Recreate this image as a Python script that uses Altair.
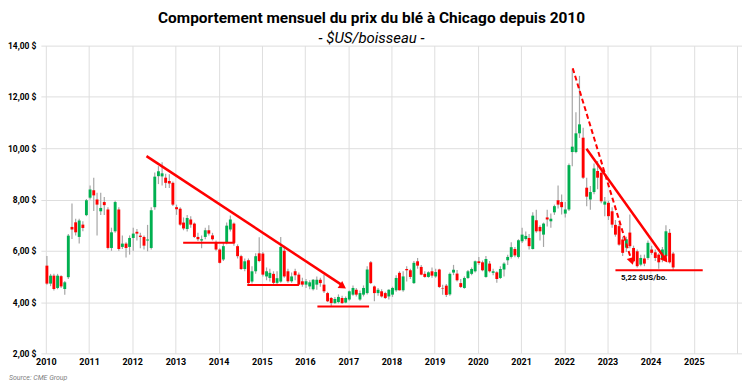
import altair as alt
import pandas as pd

# Monthly OHLC, Jan 2010 -> Jul 2024 ($US/bushel)
opens = [5.42, 4.72, 5.03, 4.55, 5.01, 4.51, 4.97, 6.93, 7.11, 6.54, 7.02, 7.39,
         8.07, 8.36, 8.00, 7.54, 7.90, 7.61, 6.11, 6.76, 7.61, 6.15, 6.28, 6.15,
         6.50, 6.74, 6.59, 6.54, 6.40, 6.11, 7.70, 8.91, 8.90, 8.85, 8.72, 8.65,
         7.70, 7.64, 7.10, 6.85, 7.22, 7.06, 6.54, 6.40, 6.54, 6.80, 6.60, 6.31,
         6.05, 5.66, 6.31, 6.83, 7.06, 6.18, 5.79, 5.29, 5.63, 4.80, 5.20, 5.90,
         5.89, 5.00, 4.94, 5.10, 4.75, 4.80, 6.00, 5.20, 4.81, 5.20, 5.07, 4.81,
         4.68, 4.61, 4.50, 4.68, 4.87, 4.68, 4.35, 4.16, 3.96, 4.00, 4.16, 3.98,
         4.10, 4.29, 4.48, 4.10, 4.29, 4.35, 5.55, 4.61, 4.35, 4.42, 4.35, 4.22,
         4.29, 4.46, 5.14, 4.46, 5.29, 5.24, 4.74, 5.59, 5.37, 5.10, 4.98, 5.20,
         5.00, 5.27, 4.55, 4.64, 4.30, 5.15, 5.11, 4.74, 4.55, 4.94, 5.10, 5.20,
         5.59, 5.55, 4.98, 5.50, 5.14, 5.16, 4.94, 5.27, 5.63, 5.76, 6.07, 5.76,
         6.37, 6.46, 6.50, 6.07, 7.19, 6.93, 6.63, 7.30, 7.15, 7.50, 7.97, 7.90,
         7.45, 7.61, 9.85, 9.85, 10.58, 10.41, 8.46, 8.00, 8.29, 9.11, 9.04, 7.80,
         7.87, 7.54, 7.01, 6.96, 6.44, 6.12, 6.71, 6.11, 5.98, 5.46, 5.70, 5.72,
         6.05, 5.94, 5.85, 5.66, 5.79, 6.70, 5.89]
highs = [5.80, 5.10, 5.10, 5.10, 5.05, 4.82, 6.65, 7.84, 7.25, 7.25, 7.15, 8.02,
         8.55, 8.85, 8.26, 8.26, 8.10, 7.70, 6.90, 7.95, 7.70, 6.60, 6.33, 6.60,
         6.90, 6.85, 6.70, 6.60, 7.01, 7.70, 9.05, 9.30, 9.45, 9.00, 8.98, 8.70,
         7.80, 7.70, 7.30, 7.40, 7.35, 7.10, 6.70, 6.60, 6.90, 7.00, 6.70, 6.40,
         6.10, 6.30, 7.10, 7.38, 7.10, 6.25, 5.85, 5.70, 5.70, 5.40, 5.90, 6.53,
         5.95, 5.35, 5.30, 5.20, 5.20, 6.54, 6.20, 5.30, 5.15, 5.30, 5.15, 4.95,
         4.90, 4.85, 4.90, 5.00, 4.95, 5.07, 4.40, 4.20, 4.20, 4.30, 4.25, 4.22,
         4.45, 4.65, 4.55, 4.45, 4.65, 5.40, 5.60, 4.65, 4.55, 4.50, 4.40, 4.50,
         4.60, 5.05, 5.20, 5.20, 5.40, 5.30, 5.60, 5.72, 5.45, 5.20, 5.20, 5.35,
         5.30, 5.30, 4.68, 4.70, 5.15, 5.45, 5.25, 4.90, 5.00, 5.25, 5.35, 5.62,
         5.76, 5.62, 5.80, 5.60, 5.30, 5.20, 5.40, 5.55, 5.85, 6.33, 6.15, 6.45,
         6.90, 6.75, 6.65, 7.50, 7.60, 7.00, 7.10, 7.60, 7.45, 7.80, 8.55, 8.19,
         7.90, 9.40, 13.08, 11.40, 12.82, 10.80, 8.85, 8.53, 9.40, 9.50, 9.10, 8.10,
         7.95, 7.70, 7.20, 7.05, 6.55, 6.55, 7.41, 6.20, 6.05, 5.85, 5.85, 6.40,
         6.20, 6.05, 5.90, 6.15, 7.00, 6.85, 5.95]
lows = [4.68, 4.62, 4.45, 4.50, 4.55, 4.29, 4.90, 6.46, 6.60, 6.28, 6.76, 7.35,
        8.00, 7.55, 6.60, 7.40, 7.40, 6.05, 6.00, 6.70, 6.00, 6.07, 5.74, 5.85,
        6.00, 6.40, 6.10, 6.05, 5.98, 6.05, 7.60, 8.60, 8.55, 8.45, 8.45, 7.75,
        7.40, 6.98, 6.80, 6.75, 6.90, 6.50, 6.38, 6.10, 6.45, 6.60, 6.40, 6.00,
        5.50, 5.60, 6.25, 6.75, 6.20, 5.70, 5.25, 5.20, 4.70, 4.72, 5.10, 5.55,
        5.00, 4.85, 4.80, 4.68, 4.70, 4.75, 4.95, 4.75, 4.75, 4.85, 4.65, 4.60,
        4.55, 4.50, 4.45, 4.48, 4.60, 4.35, 4.00, 3.85, 3.92, 3.95, 3.92, 3.95,
        4.05, 4.25, 4.22, 4.05, 4.22, 4.30, 4.70, 4.03, 4.25, 4.18, 4.12, 4.10,
        4.20, 4.40, 4.45, 4.40, 4.80, 4.90, 4.70, 5.30, 5.05, 4.95, 4.95, 4.95,
        4.95, 4.55, 4.29, 4.20, 4.25, 5.05, 4.80, 4.55, 4.52, 4.90, 5.05, 5.15,
        5.45, 5.20, 4.95, 5.15, 5.05, 4.75, 4.90, 5.00, 5.45, 5.70, 5.75, 5.70,
        6.30, 6.40, 6.05, 6.05, 6.70, 6.40, 6.15, 6.95, 6.90, 7.40, 7.65, 7.41,
        7.30, 7.55, 9.30, 9.80, 10.40, 8.80, 7.74, 7.60, 8.20, 8.40, 7.85, 7.35,
        7.20, 6.90, 6.55, 6.20, 5.80, 5.95, 6.10, 5.55, 5.35, 5.40, 5.40, 5.65,
        5.85, 5.60, 5.30, 5.55, 5.75, 5.50, 5.22]
closes = [4.72, 5.03, 4.51, 5.03, 4.61, 4.77, 6.59, 6.83, 6.72, 7.18, 6.89, 7.97,
          8.39, 8.16, 7.80, 7.67, 7.78, 6.11, 6.72, 7.90, 6.07, 6.28, 6.11, 6.50,
          6.67, 6.67, 6.54, 6.20, 6.44, 7.58, 8.89, 9.10, 9.02, 8.65, 8.62, 7.80,
          7.62, 7.02, 6.87, 7.28, 7.02, 6.54, 6.45, 6.45, 6.80, 6.67, 6.45, 6.05,
          5.53, 6.18, 6.98, 7.22, 6.31, 5.79, 5.29, 5.59, 4.74, 5.20, 5.79, 5.60,
          5.07, 5.20, 5.14, 4.75, 4.93, 6.15, 5.00, 4.81, 5.00, 5.05, 4.68, 4.68,
          4.81, 4.77, 4.87, 4.87, 4.74, 4.42, 4.03, 3.96, 4.12, 4.20, 3.96, 4.16,
          4.42, 4.55, 4.29, 4.35, 4.55, 5.27, 4.74, 4.35, 4.48, 4.22, 4.16, 4.48,
          4.55, 4.94, 4.46, 5.00, 5.24, 4.98, 5.53, 5.42, 5.07, 4.98, 5.16, 5.03,
          5.17, 4.59, 4.53, 4.28, 5.10, 5.26, 4.85, 4.59, 4.94, 5.20, 5.29, 5.59,
          5.52, 5.24, 5.68, 5.20, 5.20, 4.90, 5.29, 5.50, 5.76, 6.14, 5.82, 6.41,
          6.63, 6.58, 6.18, 7.37, 6.76, 6.76, 7.06, 7.22, 7.25, 7.74, 7.80, 7.70,
          7.61, 9.34, 10.06, 10.58, 10.93, 8.85, 8.11, 8.29, 9.21, 8.85, 7.93, 7.92,
          7.35, 7.02, 6.63, 6.24, 5.92, 6.45, 6.18, 5.59, 5.40, 5.72, 5.50, 6.31,
          5.92, 5.72, 5.55, 6.05, 6.76, 5.55, 5.35]

# Annotations (dates / prices)
trend_seg = ["a", "a", "b", "b"]
trend_dates = ["2012-05-01", "2016-11-10", "2022-07-08", "2024-04-25"]
trend_vals = [9.69, 4.66, 9.98, 5.74]
dash_dates = ["2022-03-14", "2023-07-15"]
dash_vals = [13.12, 5.75]
arrow_dates = ["2016-11-17", "2023-07-26", "2024-05-04"]
arrow_vals = [4.61, 5.59, 5.66]
arrow_angles = [33, 73, 54]
level_start = ["2013-03-07", "2014-08-31", "2016-04-15", "2023-03-10"]
level_end = ["2014-05-17", "2015-11-11", "2017-06-26", "2025-03-17"]
level_vals = [6.31, 4.67, 3.83, 5.24]
note_date = ["2023-04-25"]
note_val = [4.94]
note_text = ["5,22 $US/bo."]
source_text = ["Source: CME Group"]

years = list(range(2010, 2027))
y_ticks = [2, 4, 6, 8, 10, 12, 14]

dates = pd.date_range("2010-01-01", periods=len(opens), freq="MS") + pd.Timedelta(days=9)
df = pd.DataFrame({"date": dates, "open": opens, "high": highs, "low": lows, "close": closes})
df["dir"] = ["up" if c >= o else "down" for o, c in zip(opens, closes)]

W, H = 704, 309
FONT = "Roboto"
RED = "#ff0000"

xs = alt.Scale(domain=[alt.DateTime(year=2010, month=1, date=1),
                       alt.DateTime(year=2026, month=1, date=1)])
ys = alt.Scale(domain=[2, 14], nice=False, zero=False)

x_axis = alt.Axis(
    values=[alt.DateTime(year=y, month=1, date=1) for y in years],
    labelExpr="year(datum.value) == 2026 ? '' : timeFormat(datum.value, '%Y')",
    title=None, grid=True, gridColor="#dedede", domain=False, ticks=False,
    labelFont=FONT, labelFontSize=9, labelFontWeight="bold", labelColor="#000",
    labelPadding=4)
y_axis = alt.Axis(
    values=y_ticks,
    labelExpr="replace(format(datum.value, '.2f'), '.', ',') + ' $'",
    title=None, grid=True, gridColor="#dedede", domain=False, ticks=False,
    labelFont=FONT, labelFontSize=8.5, labelFontWeight="bold", labelColor="#000",
    labelPadding=5)

base = alt.Chart(df)
wicks = base.mark_rule(color="#a6a6a6", strokeWidth=1.2).encode(
    x=alt.X("date:T", scale=xs, axis=x_axis),
    y=alt.Y("low:Q", scale=ys, axis=y_axis),
    y2="high:Q")
bodies = base.mark_bar(size=2.9).encode(
    x=alt.X("date:T", scale=xs),
    y=alt.Y("open:Q", scale=ys),
    y2="close:Q",
    color=alt.Color("dir:N", scale=alt.Scale(domain=["up", "down"], range=["#00b050", RED]), legend=None))

tdf = pd.DataFrame({"seg": trend_seg, "date": pd.to_datetime(trend_dates), "v": trend_vals})
trend = alt.Chart(tdf).mark_line(color=RED, strokeWidth=2.5).encode(
    x=alt.X("date:T", scale=xs), y=alt.Y("v:Q", scale=ys), detail="seg:N")
ddf = pd.DataFrame({"date": pd.to_datetime(dash_dates), "v": dash_vals})
dashed = alt.Chart(ddf).mark_line(color=RED, strokeWidth=2, strokeDash=[5, 3]).encode(
    x=alt.X("date:T", scale=xs), y=alt.Y("v:Q", scale=ys))
adf = pd.DataFrame({"date": pd.to_datetime(arrow_dates), "v": arrow_vals, "ang": arrow_angles})
arrows = alt.Chart(adf).mark_point(shape="triangle-right", filled=True, color=RED, size=70, opacity=1).encode(
    x=alt.X("date:T", scale=xs), y=alt.Y("v:Q", scale=ys), angle=alt.Angle("ang:Q", scale=None))
ldf = pd.DataFrame({"d1": pd.to_datetime(level_start), "d2": pd.to_datetime(level_end), "v": level_vals})
levels = alt.Chart(ldf).mark_rule(color=RED, strokeWidth=2).encode(
    x=alt.X("d1:T", scale=xs), x2="d2:T", y=alt.Y("v:Q", scale=ys))
ndf = pd.DataFrame({"date": pd.to_datetime(note_date), "v": note_val, "t": note_text})
note = alt.Chart(ndf).mark_text(align="left", baseline="middle", font=FONT, fontSize=8,
                                fontWeight="bold", color="#000").encode(
    x=alt.X("date:T", scale=xs), y=alt.Y("v:Q", scale=ys), text="t:N")
sdf = pd.DataFrame({"t": source_text})
source = alt.Chart(sdf).mark_text(align="left", baseline="middle", font=FONT, fontSize=7,
                                  fontStyle="italic", color="#7f7f7f").encode(
    x=alt.value(-32), y=alt.value(H + 25), text="t:N")

chart = alt.layer(wicks, bodies, levels, trend, dashed, arrows, note, source).properties(
    width=W, height=H,
    title=alt.TitleParams(
        text="Comportement mensuel du prix du blé à Chicago depuis 2010",
        subtitle="- $US/boisseau -",
        font=FONT, fontSize=15.5, fontWeight="bold", color="#000",
        subtitleFont=FONT, subtitleFontSize=15, subtitleFontStyle="italic", subtitleColor="#000",
        subtitlePadding=4, anchor="middle", dx=-20, dy=7, offset=3),
    autosize=alt.AutoSizeParams(type="none"),
    padding={"left": 33, "top": 37, "right": 0, "bottom": 32},
).configure_view(stroke=None)

chart.save("out.html", embed_options={"renderer": "svg", "actions": False})
